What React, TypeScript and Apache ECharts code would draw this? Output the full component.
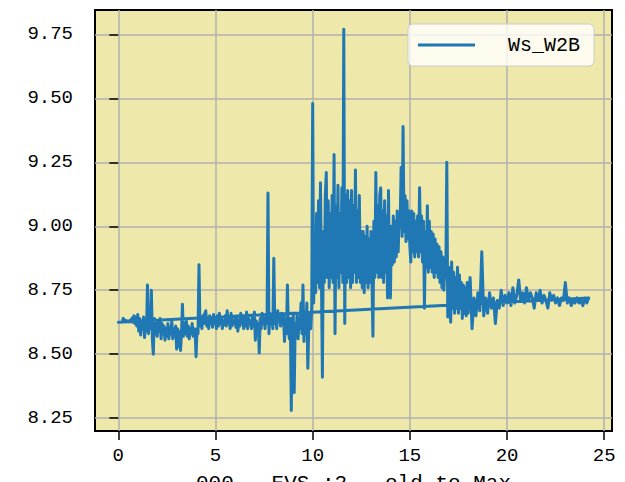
import React, { useEffect, useRef } from "react";
import * as echarts from "echarts";

// First part of the record: hours 0.00 .. 17.95, one sample every 0.05 h
const SEG1_START_H = 0;
const SEG1_STEP_H = 0.05;
const wsW2BSeg1: number[] = [
  8.625, 8.625, 8.625, 8.625, 8.625, 8.64, 8.635, 8.63, 8.632, 8.628,
  8.63, 8.626, 8.632, 8.628, 8.64, 8.625, 8.65, 8.62, 8.645, 8.61,
  8.655, 8.59, 8.64, 8.575, 8.63, 8.6, 8.645, 8.565, 8.62, 8.59,
  8.77, 8.58, 8.66, 8.6, 8.75, 8.56, 8.5, 8.64, 8.58, 8.62,
  8.57, 8.63, 8.59, 8.64, 8.56, 8.62, 8.58, 8.61, 8.555, 8.6,
  8.57, 8.62, 8.56, 8.605, 8.58, 8.63, 8.56, 8.6, 8.57, 8.61,
  8.52, 8.6, 8.53, 8.59, 8.515, 8.58, 8.695, 8.57, 8.62, 8.58,
  8.63, 8.57, 8.61, 8.56, 8.6, 8.58, 8.62, 8.57, 8.6, 8.59,
  8.49, 8.6, 8.58, 8.85, 8.61, 8.64, 8.6, 8.65, 8.62, 8.66,
  8.67, 8.61, 8.64, 8.6, 8.65, 8.62, 8.63, 8.605, 8.655, 8.62,
  8.64, 8.6, 8.65, 8.61, 8.66, 8.62, 8.64, 8.6, 8.63, 8.615,
  8.65, 8.61, 8.67, 8.62, 8.64, 8.6, 8.66, 8.61, 8.63, 8.62,
  8.64, 8.605, 8.65, 8.59, 8.63, 8.61, 8.66, 8.62, 8.64, 8.6,
  8.65, 8.61, 8.665, 8.6, 8.64, 8.62, 8.63, 8.6, 8.65, 8.61,
  8.665, 8.555, 8.63, 8.6, 8.62, 8.505, 8.64, 8.6, 8.66, 8.62,
  8.64, 8.6, 8.65, 8.62, 9.13, 8.58, 8.66, 8.62, 8.64, 8.6,
  8.875, 8.62, 8.66, 8.6, 8.67, 8.63, 8.65, 8.61, 8.66, 8.62,
  8.65, 8.55, 8.64, 8.58, 8.77, 8.6, 8.56, 8.64, 8.28, 8.6,
  8.66, 8.35, 8.62, 8.58, 8.66, 8.56, 8.64, 8.6, 8.7, 8.58,
  8.77, 8.55, 8.64, 8.58, 8.7, 8.445, 8.62, 8.66, 8.6, 8.68,
  9.48, 8.7, 8.95, 8.74, 9.05, 8.78, 9.1, 8.76, 9.17, 8.8,
  8.41, 8.98, 8.78, 9.12, 9.21, 8.8, 9.1, 8.76, 9.05, 8.8,
  9.12, 8.78, 9.28, 8.58, 9.08, 8.8, 9.16, 8.76, 9.05, 8.82,
  9.15, 8.78, 9.77, 8.62, 9.12, 8.78, 9.14, 8.8, 9.1, 8.76,
  9.14, 8.78, 9.08, 8.82, 9.22, 8.78, 9.06, 8.8, 9.12, 8.78,
  8.98, 8.76, 8.98, 8.74, 8.96, 8.78, 9.0, 8.76, 8.95, 8.78,
  8.98, 8.8, 8.57, 9.02, 8.8, 9.21, 8.82, 9.08, 8.8, 9.12,
  9.15, 8.8, 9.06, 8.78, 9.1, 8.82, 9.04, 8.72, 9.14, 8.78,
  8.72, 9.0, 8.85, 9.04, 8.86, 9.02, 8.88, 9.06, 8.9, 9.04,
  9.0, 9.23, 8.96, 9.39, 8.98, 9.12, 8.94, 9.1, 8.95, 9.06,
  8.92, 8.86, 9.06, 8.9, 9.05, 8.88, 9.02, 8.9, 9.04, 8.88,
  9.15, 8.9, 9.04, 8.86, 9.02, 8.68, 8.98, 8.84, 9.08, 8.82,
  9.02, 8.84, 8.98, 8.82, 8.97, 8.8, 8.95, 8.82, 8.93, 8.8,
  8.92, 8.78, 8.9, 8.76, 8.88, 8.75, 8.86, 8.8, 9.25, 8.645,
  8.84, 8.7, 8.625, 8.86, 8.68, 8.82, 8.66, 8.8, 8.68, 8.84,
  8.66, 8.81, 8.68, 8.78, 8.64, 8.77, 8.66, 8.76, 8.65, 8.78,
];

// Second part of the record: hours 18.0 .. 24.2, one sample every 0.1 h
const SEG2_START_H = 18;
const SEG2_STEP_H = 0.1;
const wsW2BSeg2: number[] = [
  8.66, 8.8, 8.6, 8.72, 8.65, 8.74, 8.67, 8.9, 8.65, 8.72,
  8.66, 8.74, 8.68, 8.72, 8.62, 8.71, 8.68, 8.75, 8.69, 8.73,
  8.7, 8.74, 8.69, 8.76, 8.7, 8.73, 8.79, 8.71, 8.74, 8.7,
  8.76, 8.71, 8.74, 8.72, 8.68, 8.74, 8.71, 8.75, 8.7, 8.73,
  8.71, 8.68, 8.74, 8.71, 8.73, 8.7, 8.72, 8.69, 8.72, 8.71,
  8.78, 8.7, 8.72, 8.69, 8.71, 8.7, 8.72, 8.7, 8.71, 8.69,
  8.72, 8.7, 8.72,
];

// The record wraps back to its first sample at hour 0
const wrapPoint: [number, number] = [0, 8.625];

const xTicks = [0, 5, 10, 15, 20, 25];
const yTicks = [8.25, 8.5, 8.75, 9.0, 9.25, 9.5, 9.75];

const seriesName = "Ws_W2B";
const xName = "000 - EVS :2 - old to Max";

const FONT = "'Liberation Mono', 'DejaVu Sans Mono', monospace";

export default function App() {
  const ref = useRef<HTMLDivElement | null>(null);

  useEffect(() => {
    if (!ref.current) return;
    const chart = echarts.init(ref.current, undefined, { renderer: "svg" });
    const r = (v: number) => Math.round(v * 1000) / 1000;
    const points: [number, number][] = [
      ...wsW2BSeg1.map((v, i) => [r(SEG1_START_H + i * SEG1_STEP_H), v] as [number, number]),
      ...wsW2BSeg2.map((v, i) => [r(SEG2_START_H + i * SEG2_STEP_H), v] as [number, number]),
      wrapPoint,
    ];

    chart.setOption({
      animation: false,
      backgroundColor: "#ffffff",
      textStyle: { fontFamily: FONT },
      grid: {
        left: 95,
        right: 13,
        top: 10,
        bottom: 51,
        show: true,
        backgroundColor: "#eee8aa",
        borderColor: "#000000",
        borderWidth: 2,
        containLabel: false,
        outerBoundsMode: "none",
      },
      legend: {
        left: 408,
        top: 24,
        icon: "rect",
        itemWidth: 57,
        itemHeight: 3,
        padding: [11, 14, 11, 10],
        backgroundColor: "rgba(255,255,255,0.8)",
        borderColor: "#cccccc",
        borderWidth: 1,
        borderRadius: 5,
        textStyle: {
          fontFamily: FONT,
          fontSize: 20,
          color: "#000000",
          padding: [0, 0, 0, 28],
        },
        data: [seriesName],
      },
      xAxis: {
        type: "value",
        min: -1.2,
        max: 25.4,
        name: xName,
        nameLocation: "middle",
        nameGap: 42,
        nameTextStyle: { fontFamily: FONT, fontSize: 21, color: "#000000" },
        axisLine: { show: false },
        axisTick: {
          show: true,
          length: 9,
          customValues: xTicks,
          lineStyle: { color: "#000000", width: 1.5 },
        },
        axisLabel: {
          customValues: xTicks,
          margin: 15,
          fontSize: 19,
          color: "#000000",
          fontFamily: FONT,
          formatter: (v: number) => String(v),
        },
        splitLine: { show: true, lineStyle: { color: "#b0b0b0", width: 1.5 } },
      },
      yAxis: {
        type: "value",
        min: 8.2,
        max: 9.845,
        axisLine: { show: false },
        axisTick: {
          show: true,
          length: 9,
          customValues: yTicks,
          lineStyle: { color: "#000000", width: 1.5 },
        },
        axisLabel: {
          customValues: yTicks,
          margin: 22,
          fontSize: 19,
          color: "#000000",
          fontFamily: FONT,
          formatter: (v: number) => v.toFixed(2),
        },
        splitLine: { show: true, lineStyle: { color: "#b0b0b0", width: 1.5 } },
      },
      series: [
        {
          name: seriesName,
          type: "line",
          data: points,
          symbol: "none",
          showSymbol: false,
          color: "#1f77b4",
          lineStyle: { color: "#1f77b4", width: 3, cap: "round", join: "round" },
          z: 3,
        },
      ],
    });

    return () => chart.dispose();
  }, []);

  return (
    <div
      ref={ref}
      style={{ position: "fixed", left: 0, top: 0, width: 625, height: 482 }}
    />
  );
}
